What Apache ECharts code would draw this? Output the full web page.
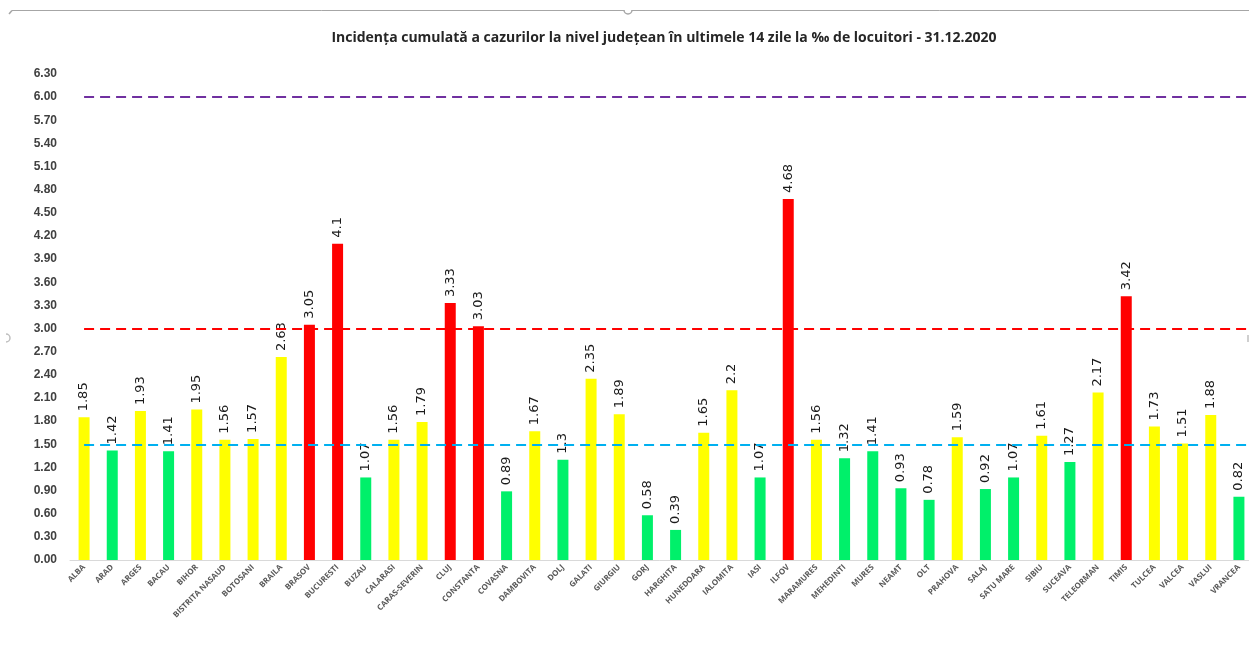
<!DOCTYPE html>
<html><head><meta charset="utf-8">
<script src="https://cdn.jsdelivr.net/npm/echarts@6/dist/echarts.min.js"></script>
<style>html,body{margin:0;padding:0;background:#fff}#c{width:1249px;height:659px}</style>
</head><body><div id="c"></div>
<script>
const categories = ["ALBA","ARAD","ARGES","BACAU","BIHOR","BISTRITA NASAUD","BOTOSANI","BRAILA","BRASOV","BUCURESTI","BUZAU","CALARASI","CARAS-SEVERIN","CLUJ","CONSTANTA","COVASNA","DAMBOVITA","DOLJ","GALATI","GIURGIU","GORJ","HARGHITA","HUNEDOARA","IALOMITA","IASI","ILFOV","MARAMURES","MEHEDINTI","MURES","NEAMT","OLT","PRAHOVA","SALAJ","SATU MARE","SIBIU","SUCEAVA","TELEORMAN","TIMIS","TULCEA","VALCEA","VASLUI","VRANCEA"];
const values = [1.85,1.42,1.93,1.41,1.95,1.56,1.57,2.63,3.05,4.1,1.07,1.56,1.79,3.33,3.03,0.89,1.67,1.3,2.35,1.89,0.58,0.39,1.65,2.2,1.07,4.68,1.56,1.32,1.41,0.93,0.78,1.59,0.92,1.07,1.61,1.27,2.17,3.42,1.73,1.51,1.88,0.82];
const thresholds = [1.5, 3.0, 6.0];
const thresholdColors = ['#00B0F0', '#FF0000', '#7030A0'];
const title = "Incidența cumulată a cazurilor la nivel județean în ultimele 14 zile la ‰ de locuitori - 31.12.2020";

function colorFor(v){ return v > 3 ? '#FF0000' : (v >= 1.5 ? '#FFFF00' : '#00F06A'); }
const chart = echarts.init(document.getElementById('c'));
chart.setOption({
  animation:false,
  title:{text:title, left:659, top:26, textAlign:'center',
    textStyle:{fontFamily:'Open Sans, sans-serif', fontSize:14, fontWeight:'bold', color:'#262626'}},
  graphic:[
    {type:'line', shape:{x1:12, y1:10.5, x2:1249, y2:10.5}, style:{stroke:'#A6A6A6', lineWidth:1}},
    {type:'line', shape:{x1:12, y1:10.5, x2:9, y2:14}, style:{stroke:'#A6A6A6', lineWidth:1.5}},
    {type:'arc', shape:{cx:628, cy:10, r:4, startAngle:0, endAngle:Math.PI}, style:{stroke:'#A6A6A6', fill:'#fff', lineWidth:1.5}},
    {type:'arc', shape:{cx:6, cy:338, r:4, startAngle:-Math.PI/2, endAngle:Math.PI/2}, style:{stroke:'#BFBFBF', fill:'none', lineWidth:1.5}},
    {type:'line', shape:{x1:1248, y1:335, x2:1248, y2:342}, style:{stroke:'#BFBFBF', lineWidth:1.5}}
  ],
  grid:{left:70, width:1183, top:74, bottom:99, containLabel:false, outerBoundsMode:'none'},
  xAxis:{type:'category', data:categories,
    axisLine:{lineStyle:{color:'#D9D9D9'}}, axisTick:{show:false},
    axisLabel:{rotate:45, interval:0, fontSize:8, fontWeight:'bold', color:'#595959', margin:6,
      fontFamily:'Open Sans, sans-serif'}},
  yAxis:{type:'value', min:0, max:6.3, interval:0.3,
    axisLine:{show:false}, axisTick:{show:false}, splitLine:{show:false},
    axisLabel:{formatter:v=>v.toFixed(2), fontSize:12, fontWeight:'bold', color:'#404040', margin:13,
      fontFamily:'Liberation Sans, Open Sans, sans-serif'}},
  series:[{
    type:'bar', barWidth:11,
    data: values.map(v=>({value:v, itemStyle:{color:colorFor(v)}})),
    label:{show:true, position:'top', rotate:90, align:'left', verticalAlign:'middle', distance:6,
      fontSize:13, color:'#1a1a1a', fontFamily:'DejaVu Sans, sans-serif',
      formatter:p=>String(p.value)}
  }]
});
// threshold lines: start at first category centre, run to the chart's right edge
const lines = thresholds.map((v, i) => {
  const p = chart.convertToPixel({xAxisIndex:0, yAxisIndex:0}, [0, v]);
  return [{x:p[0], y:p[1], lineStyle:{color:thresholdColors[i]}}, {x:1249, y:p[1]}];
});
chart.setOption({series:[{
  markLine:{silent:true, symbol:'none', label:{show:false},
    lineStyle:{type:[10,6], width:2}, data:lines}
}]});
</script></body></html>
